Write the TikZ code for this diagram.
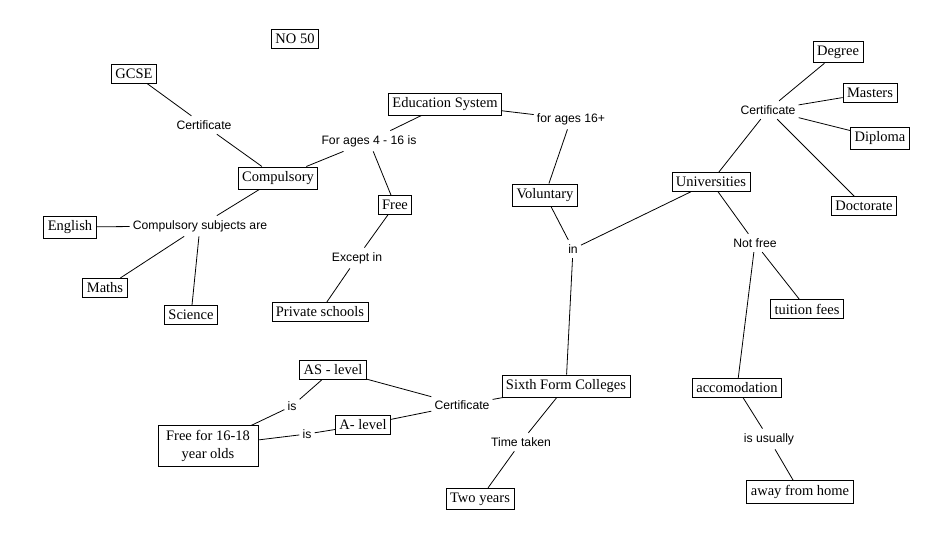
\documentclass[tikz,border=0pt]{standalone}
\usepackage{fontspec}
\setmainfont{Liberation Serif}
\newfontfamily\lblfont{Liberation Sans}
\begin{document}
\begin{tikzpicture}[x=1pt,y=-1pt,
  concept/.style={draw=black,line width=0.8pt,fill=white,inner xsep=4pt,inner ysep=4.5pt,font=\fontsize{14.5}{16}\selectfont,align=center},
  linkl/.style={inner xsep=3pt,inner ysep=4.5pt,font=\lblfont\fontsize{12.2}{14}\selectfont},
  conn/.style={line width=0.8pt,black}]
\useasboundingbox (0,0) rectangle (952,552);
% concepts
\node[concept] (no50) at (295,39) {NO 50};
\node[concept] (gcse) at (134,74) {GCSE};
\node[concept] (edu) at (445,104) {Education System};
\node[concept] (comp) at (278,178) {Compulsory};
\node[concept] (free) at (395,205) {Free};
\node[concept] (eng) at (70,227) {English};
\node[concept] (maths) at (105,288) {Maths};
\node[concept] (sci) at (191,315) {Science};
\node[concept] (priv) at (320,312) {Private schools};
\node[concept] (vol) at (545,195) {Voluntary};
\node[concept] (uni) at (711,182) {Universities};
\node[concept] (deg) at (838,52) {Degree};
\node[concept] (mas) at (870,93) {Masters};
\node[concept] (dip) at (880,138) {Diploma};
\node[concept] (doc) at (864,206) {Doctorate};
\node[concept] (fees) at (807,309) {tuition fees};
\node[concept] (acc) at (737,388) {accomodation};
\node[concept] (away) at (800,492) {away from home};
\node[concept] (sixth) at (566,386) {Sixth Form Colleges};
\node[concept] (as) at (333,370) {AS - level};
\node[concept] (al) at (363,425) {A- level};
\node[concept,minimum width=100pt,font=\fontsize{14.5}{18}\selectfont] (ff) at (208,446) {Free for 16-18\\year olds};
\node[concept] (two) at (480,499) {Two years};
% link labels
\node[linkl] (l1) at (204,125) {Certificate};
\node[linkl] (l2) at (369,141) {For ages 4 - 16 is};
\node[linkl] (l3) at (200,226) {Compulsory subjects are};
\node[linkl] (l4) at (357,258) {Except in};
\node[linkl] (l5) at (571,119) {for ages 16+};
\node[linkl] (l6) at (768,110) {Certificate};
\node[linkl] (l7) at (573,249) {in};
\node[linkl] (l8) at (755,243) {Not free};
\node[linkl] (l9) at (769,439) {is usually};
\node[linkl] (l10) at (462,405) {Certificate};
\node[linkl] (l11) at (521,442) {Time taken};
\node[linkl] (l12) at (292,406) {is};
\node[linkl] (l13) at (307,434) {is};
% connectors
\draw[conn] (gcse) -- (l1) -- (comp);
\draw[conn] (edu) -- (l2) -- (comp);
\draw[conn] (l2) -- (free);
\draw[conn] (edu) -- (l5) -- (vol);
\draw[conn] (comp) -- (l3) -- (eng);
\draw[conn] (l3) -- (maths);
\draw[conn] (l3) -- (sci);
\draw[conn] (free) -- (l4) -- (priv);
\draw[conn] (vol) -- (l7) -- (sixth);
\draw[conn] (l7) -- (uni);
\draw[conn] (uni) -- (l6) -- (deg);
\draw[conn] (l6) -- (mas);
\draw[conn] (l6) -- (dip);
\draw[conn] (l6) -- (doc);
\draw[conn] (uni) -- (l8) -- (fees);
\draw[conn] (l8) -- (acc);
\draw[conn] (acc) -- (l9) -- (away);
\draw[conn] (sixth) -- (l10) -- (as);
\draw[conn] (l10) -- (al);
\draw[conn] (sixth) -- (l11) -- (two);
\draw[conn] (as) -- (l12) -- (ff);
\draw[conn] (al) -- (l13) -- (ff);
\end{tikzpicture}
\end{document}
